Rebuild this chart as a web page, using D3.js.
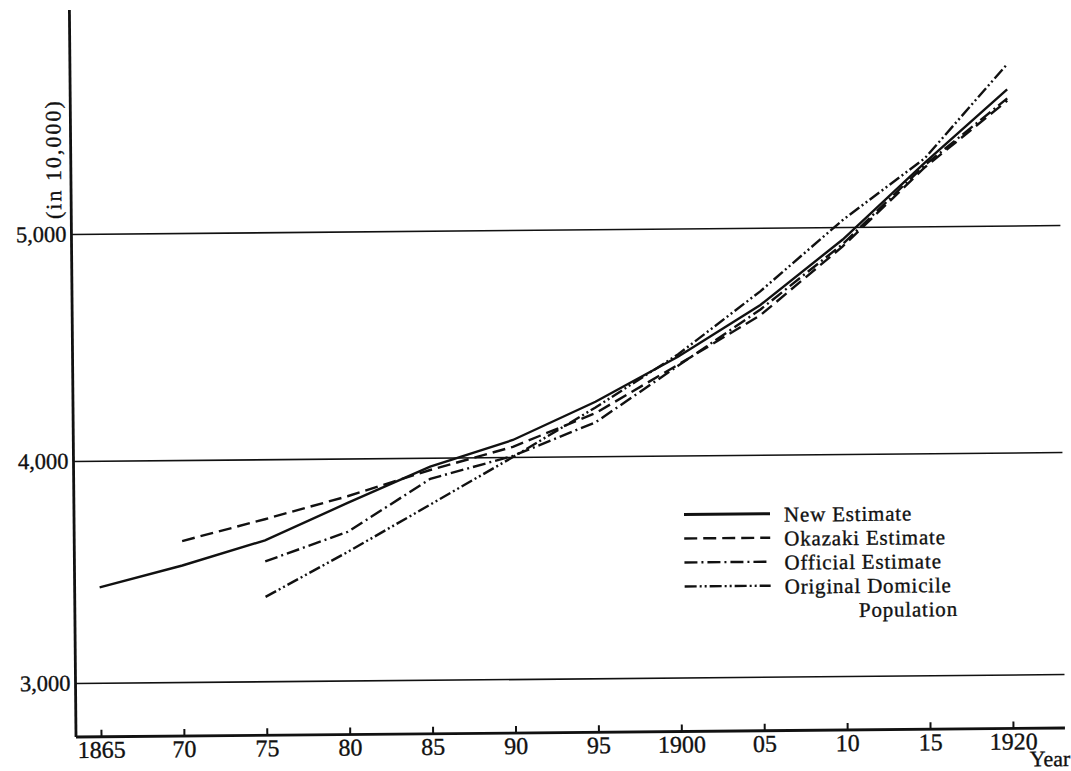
<!DOCTYPE html>
<html>
<head>
<meta charset="utf-8">
<script src="https://cdn.jsdelivr.net/npm/d3@7"></script>
<style>
body { margin: 0; background: #fff; }
text { font-family: "Liberation Serif", "DejaVu Serif", serif; fill: #111; stroke: #111; stroke-width: 0.35px; }
</style>
</head>
<body>
<div class="chart-container"></div>
<script>
// Data (population, in 10,000)
const years = [1865, 1870, 1875, 1880, 1885, 1890, 1895, 1900, 1905, 1910, 1915, 1920];
const yearLabels = ['1865', '70', '75', '80', '85', '90', '95', '1900', '05', '10', '15', '1920'];
const valueTicks = [3000, 4000, 5000];

const seriesNames = ['New Estimate', 'Okazaki Estimate', 'Official Estimate', 'Original Domicile'];
const newEstimate = [3430, 3525, 3635, 3800, 3960, 4075, 4240, 4435, 4660, 4945, 5280, 5600];
const okazakiEstimate = [null, 3635, 3730, 3830, 3945, 4045, 4190, 4400, 4615, 4915, 5260, 5550];
const officialEstimate = [null, null, 3540, 3670, 3905, 4005, 4150, 4395, 4640, 4925, 5270, 5560];
const originalDomicile = [null, null, 3380, 3580, 3790, 4000, 4215, 4445, 4720, 5030, 5300, 5710];

const dashes = [null, '13,6', '13,4,2,4', '12,3,2,3,2,3'];

// Layout
const width = 1071;
const height = 771;
const frame = {left: 76, right: 1065, top: 10, bottom: 737};

const svg = d3.select('.chart-container')
    .append('svg')
    .attr('width', width)
    .attr('height', height);

// the printed page is scanned slightly turned
const g = svg.append('g')
    .attr('transform', `rotate(-0.52, ${frame.left}, ${frame.bottom})`);

// Scales (hand drawn grid: spacing not quite even)
const xScale = d3.scaleLinear()
    .domain([1865, 1920])
    .range([101, 1013]);

const yScale = d3.scaleLinear()
    .domain([3000, 4000, 5000])
    .range([683, 461, 234]);

// Gridlines + y labels
const yAxis = d3.axisLeft(yScale)
    .tickValues(valueTicks)
    .tickFormat(d3.format(','))
    .tickSizeInner(-(frame.right - frame.left))
    .tickSizeOuter(0)
    .tickPadding(5);

const yAxisDraw = g.append('g')
    .attr('class', 'y axis')
    .attr('transform', `translate(${frame.left}, 0)`)
    .call(yAxis);

yAxisDraw.select('.domain').remove();
yAxisDraw.selectAll('line').attr('stroke', '#111').attr('stroke-width', 1.6);
yAxisDraw.selectAll('text').style('font-size', '22.5px').attr('fill', '#111');

// Axis lines
g.append('line')
    .attr('x1', frame.left).attr('x2', frame.left)
    .attr('y1', frame.top).attr('y2', frame.bottom)
    .attr('stroke', '#111').attr('stroke-width', 2.8);

g.append('line')
    .attr('x1', frame.left).attr('x2', frame.right)
    .attr('y1', frame.bottom).attr('y2', frame.bottom)
    .attr('stroke', '#111').attr('stroke-width', 2.8);

// x ticks point up, labels below
const xAxis = d3.axisBottom(xScale)
    .tickValues(years)
    .tickFormat((d, i) => yearLabels[i])
    .tickSizeInner(-7)
    .tickSizeOuter(0)
    .tickPadding(4);

const xAxisDraw = g.append('g')
    .attr('class', 'x axis')
    .attr('transform', `translate(0, ${frame.bottom})`)
    .call(xAxis);

xAxisDraw.select('.domain').remove();
xAxisDraw.selectAll('line').attr('stroke', '#111').attr('stroke-width', 2);
xAxisDraw.selectAll('text').style('font-size', '24px').attr('fill', '#111');

g.append('text')
    .attr('x', frame.right + 5)
    .attr('y', 775)
    .attr('text-anchor', 'end')
    .style('font-size', '22px')
    .text('Year');

g.append('text')
    .attr('transform', 'translate(66, 159) rotate(-90)')
    .attr('text-anchor', 'middle')
    .style('font-size', '22px')
    .style('letter-spacing', '2px')
    .text('(in 10,000)');

// Lines
const allSeries = [newEstimate, okazakiEstimate, officialEstimate, originalDomicile].map((vals, i) => ({
    name: seriesNames[i],
    dash: dashes[i],
    values: vals.map((v, j) => ({year: years[j], value: v}))
}));

const line = d3.line()
    .defined(d => d.value != null)
    .x(d => xScale(d.year))
    .y(d => yScale(d.value));

g.selectAll('.series')
    .data(allSeries)
    .enter()
    .append('path')
    .attr('class', 'series')
    .attr('d', d => line(d.values))
    .attr('fill', 'none')
    .attr('stroke', '#111')
    .attr('stroke-width', 2.4)
    .attr('stroke-dasharray', d => d.dash);

// Legend
const legend = g.append('g')
    .attr('class', 'legend')
    .attr('transform', 'translate(686, 520)');

const items = legend.selectAll('.item')
    .data(allSeries)
    .enter()
    .append('g')
    .attr('class', 'item')
    .attr('transform', (d, i) => `translate(0, ${i * 24})`);

items.append('line')
    .attr('x1', 0).attr('x2', 86)
    .attr('stroke', '#111')
    .attr('stroke-width', (d, i) => i === 0 ? 3 : 2.4)
    .attr('stroke-dasharray', d => d.dash);

items.append('text')
    .attr('x', 100)
    .attr('y', 8)
    .style('font-size', '21px')
    .style('letter-spacing', '0.8px')
    .text(d => d.name);

legend.append('text')
    .attr('x', 174)
    .attr('y', 4 * 24 + 8)
    .style('font-size', '21px')
    .style('letter-spacing', '0.8px')
    .text('Population');
</script>
</body>
</html>
